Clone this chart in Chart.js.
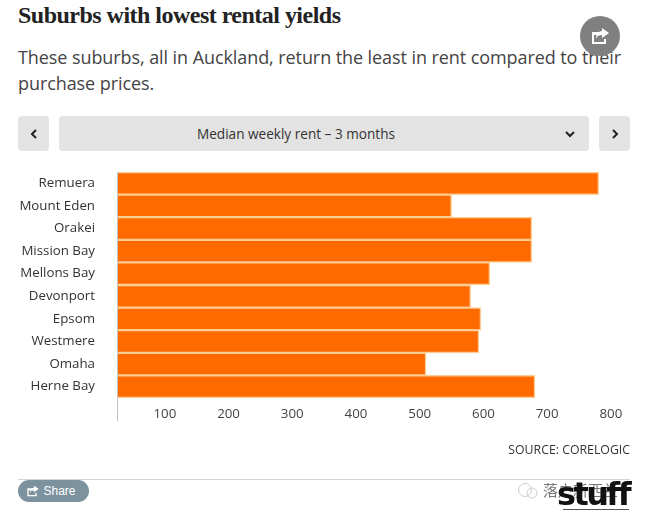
<!DOCTYPE html>
<html><head><meta charset="utf-8">
<style>
html,body{margin:0;padding:0;background:#fff;width:647px;height:517px;overflow:hidden;position:relative;font-family:"Open Sans",sans-serif;}
.a{position:absolute;white-space:nowrap;}
#title{left:18px;top:1px;font:bold 24px/28px "Liberation Serif",serif;letter-spacing:-.52px;color:#222;}
#sub{left:18px;top:45px;font-size:18px;line-height:25.5px;color:#444;letter-spacing:-.08px;white-space:normal;width:625px;}
.btn{position:absolute;top:116px;height:35px;background:#e3e3e3;border-radius:4px;color:#333;text-align:center;line-height:35px;font-size:13.6px;}
#share{left:580px;top:16px;width:40px;height:40px;border-radius:50%;background:#808080;}
#src{right:17px;top:441px;font-size:12.3px;color:#333;}
#rule{left:18px;top:479px;width:612px;height:1px;background:#d5d5d5;}
#sharebtn{left:18px;top:480px;width:71px;height:22px;border-radius:11px;background:#7c929e;color:#fff;font:12px/22px "Liberation Sans",sans-serif;text-align:center;text-indent:12px;}
#wm{left:543px;top:480px;font:15px/20px "Noto Sans CJK SC";color:#777;}
#logo{right:18px;top:474px;font:900 32px/40px "DejaVu Sans",sans-serif;color:#111;letter-spacing:-2.6px;}
#logoline{left:563px;top:509px;width:66px;height:1px;background:#555;}
#wx{left:515px;top:481px;}
canvas{position:absolute;left:0;top:0;}
</style>
<script src="https://cdn.jsdelivr.net/npm/chart.js@4"></script>
</head><body>
<div class="a" id="title">Suburbs with lowest rental yields</div>
<div class="a" id="sub">These suburbs, all in Auckland, return the least in rent compared to their purchase prices.</div>
<div class="btn" style="left:18px;width:31px;"><svg width="8" height="10" viewBox="0 0 8 10"><path d="M6 1 2 5l4 4" fill="none" stroke="#222" stroke-width="2"/></svg></div>
<div class="btn" style="left:59px;width:530px;"><span style="margin-right:56px">Median weekly rent – 3 months</span><svg style="position:absolute;right:14px;top:14px" width="10" height="8" viewBox="0 0 10 8"><path d="M1 2l4 4 4-4" fill="none" stroke="#222" stroke-width="2"/></svg></div>
<div class="btn" style="left:599px;width:31px;"><svg width="8" height="10" viewBox="0 0 8 10"><path d="M2 1l4 4-4 4" fill="none" stroke="#222" stroke-width="2"/></svg></div>
<canvas id="c" width="647" height="517" style="width:647px;height:517px"></canvas>
<div class="a" id="share"><svg style="position:absolute;left:11px;top:11px" width="19" height="18" viewBox="0 0 19 18"><path d="M1 5h8v3H3v7h10v-3h2v5H1z" fill="#fff"/><path d="M11 1l7 5-7 5V8C8 8 6 9 5 12 5 7 8 4 11 4z" fill="#fff"/></svg></div>
<div class="a" id="src">SOURCE: CORELOGIC</div>
<div class="a" id="rule"></div>
<div class="a" id="sharebtn"><svg style="position:absolute;left:8px;top:5px" width="14" height="12" viewBox="0 0 19 18"><path d="M1 5h8v3H3v7h10v-3h2v5H1z" fill="#fff"/><path d="M11 1l7 5-7 5V8C8 8 6 9 5 12 5 7 8 4 11 4z" fill="#fff"/></svg>Share</div>
<svg class="a" id="wx" width="26" height="20" viewBox="0 0 26 20"><circle cx="10" cy="9" r="6.5" fill="none" stroke="#ccc"/><circle cx="17" cy="12" r="5" fill="none" stroke="#ccc"/></svg>
<div class="a" id="wm">落户新西兰</div>
<div class="a" id="logo">stuff</div>
<div class="a" id="logoline"></div>
<script>
const categories = ["Remuera","Mount Eden","Orakei","Mission Bay","Mellons Bay","Devonport","Epsom","Westmere","Omaha","Herne Bay"];
const rentValues = [781,550,676,676,610,580,596,593,510,681];
const tickValues = [100,200,300,400,500,600,700,800];
const axisMin = 26.5, axisMax = 830;

const axisStem = {
  id:'axisStem',
  afterDraw(chart){
    const {ctx,chartArea:a,scales:{x}}=chart;
    ctx.save();
    ctx.strokeStyle='#c4c4c4';ctx.lineWidth=1;
    ctx.beginPath();
    ctx.moveTo(x.left-.5,a.top);ctx.lineTo(x.left-.5,a.bottom+23);
    ctx.stroke();ctx.restore();
  }
};
new Chart(document.getElementById('c'),{
  type:'bar',
  data:{labels:categories,datasets:[{data:rentValues,backgroundColor:'#ff6a00',borderColor:'#fbcd92',borderWidth:1.5,barPercentage:1,categoryPercentage:1}]},
  plugins:[axisStem],
  options:{
    indexAxis:'y',responsive:false,animation:false,devicePixelRatio:1,
    layout:{padding:{left:0,right:17,top:172,bottom:93}},
    plugins:{legend:{display:false},tooltip:{enabled:false}},
    scales:{
      x:{min:axisMin,max:axisMax,
        afterBuildTicks(s){s.ticks=tickValues.map(v=>({value:v}));},
        afterFit(s){s.height=26;},
        grid:{display:false},border:{display:false},
        ticks:{color:'#444',font:{family:'"Open Sans"',size:13.3},padding:0,maxRotation:0,autoSkip:false}},
      y:{afterFit(s){s.width=118;},
        grid:{display:false},border:{display:false},
        ticks:{color:'#333',font:{family:'"Open Sans"',size:13.3},padding:15,autoSkip:false}}
    }
  }
});
</script>
</body></html>
